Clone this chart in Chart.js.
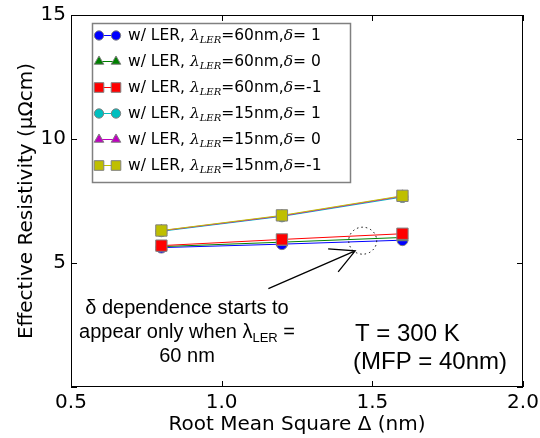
<!DOCTYPE html>
<html>
<head>
<meta charset="utf-8">
<script src="https://cdn.jsdelivr.net/npm/chart.js@4.4.1/dist/chart.umd.min.js"></script>
<style>
  html, body { margin: 0; padding: 0; background: #fff; }
  #wrap { width: 540px; height: 438px; }
</style>
</head>
<body>
<div id="wrap"><canvas id="c" width="540" height="438"></canvas></div>
<script>
const rms = [0.8, 1.2, 1.6];
const lambdas = [60, 60, 60, 15, 15, 15];
const deltas = [' 1', ' 0', '-1', ' 1', ' 0', '-1'];
const colors = ['#0000ff', '#008000', '#ff0000', '#00bfbf', '#bf00bf', '#bfbf00'];
const shapes = ['circle', 'triangle', 'rect', 'circle', 'triangle', 'rect'];
const rho60d1 = [5.62, 5.76, 5.92];
const rho60d0 = [5.66, 5.84, 6.03];
const rho60dm1 = [5.70, 5.95, 6.18];
const rho15d1 = [6.28, 6.88, 7.66];
const rho15d0 = [6.30, 6.90, 7.69];
const rho15dm1 = [6.31, 6.92, 7.71];
const series = [rho60d1, rho60d0, rho60dm1, rho15d1, rho15d0, rho15dm1];
const xTicks = [0.5, 1.0, 1.5, 2.0];
const yTicks = [0, 5, 10, 15];

const radii = { circle: 5.5, triangle: 6.5, rect: 8 };
const SANS = "'DejaVu Sans', sans-serif";
const ARIAL = "'Liberation Sans', Arial, sans-serif";
const SERIF = "'DejaVu Serif', serif";

// later series are drawn on top, as in the original plot
const datasets = series.map((vals, i) => ({
  label: `w/ LER, λLER=${lambdas[i]}nm,δ=${deltas[i]}`,
  data: vals.map((v, k) => ({ x: rms[k], y: v })),
  order: series.length - 1 - i,
  borderColor: colors[i],
  borderWidth: 1,
  pointStyle: shapes[i],
  pointRadius: radii[shapes[i]],
  pointBackgroundColor: colors[i],
  pointBorderColor: '#808080',
  pointBorderWidth: 1,
  tension: 0,
}));

// frame, inner ticks, annotations and the legend
const extras = {
  id: 'extras',
  afterDraw(chart) {
    const { ctx, chartArea: a, scales: { x, y } } = chart;
    ctx.save();
    ctx.strokeStyle = '#000';
    ctx.lineWidth = 1;
    ctx.strokeRect(a.left + 0.5, a.top + 0.5, a.right - a.left - 1, a.bottom - a.top - 1);
    const tl = 6;
    ctx.beginPath();
    xTicks.forEach(v => {
      const px = Math.round(x.getPixelForValue(v)) + 0.5;
      ctx.moveTo(px, a.bottom); ctx.lineTo(px, a.bottom - tl);
      ctx.moveTo(px, a.top); ctx.lineTo(px, a.top + tl);
    });
    yTicks.forEach(v => {
      const py = Math.round(y.getPixelForValue(v)) + 0.5;
      ctx.moveTo(a.left, py); ctx.lineTo(a.left + tl, py);
      ctx.moveTo(a.right, py); ctx.lineTo(a.right - tl, py);
    });
    ctx.stroke();

    // dotted circle + arrow
    const cx = x.getPixelForValue(1.468), cy = y.getPixelForValue(5.9);
    ctx.setLineDash([1.5, 3]);
    ctx.beginPath();
    ctx.ellipse(cx, cy, 14, 13.5, 0, 0, Math.PI * 2);
    ctx.stroke();
    ctx.setLineDash([]);
    const tip = [x.getPixelForValue(1.443), y.getPixelForValue(5.49)];
    const tail = [x.getPixelForValue(1.155), y.getPixelForValue(3.97)];
    ctx.lineWidth = 1.3;
    ctx.beginPath();
    ctx.moveTo(tail[0], tail[1]); ctx.lineTo(tip[0], tip[1]);
    ctx.moveTo(tip[0] - 27, tip[1] - 2); ctx.lineTo(tip[0], tip[1]);
    ctx.lineTo(tip[0] - 17, tip[1] + 21);
    ctx.stroke();

    // annotation text
    ctx.fillStyle = '#000';
    ctx.textBaseline = 'middle';
    ctx.textAlign = 'center';
    ctx.font = `20px ${ARIAL}`;
    ctx.fillText('δ dependence starts to', 187, 308);
    const l2a = 'appear only when λ', l2b = 'LER', l2c = ' =';
    const wa = ctx.measureText(l2a).width, wc = ctx.measureText(l2c).width;
    ctx.font = `13px ${ARIAL}`;
    const wb = ctx.measureText(l2b).width;
    const sx = 187 - (wa + wb + wc) / 2;
    ctx.textAlign = 'left';
    ctx.font = `20px ${ARIAL}`;
    ctx.fillText(l2a, sx, 332);
    ctx.font = `13px ${ARIAL}`;
    ctx.fillText(l2b, sx + wa, 338);
    ctx.font = `20px ${ARIAL}`;
    ctx.fillText(l2c, sx + wa + wb, 332);
    ctx.textAlign = 'center';
    ctx.fillText('60 nm', 187, 356);
    ctx.textAlign = 'left';
    ctx.font = `24px ${ARIAL}`;
    ctx.fillText('T = 300 K', 355, 334);
    ctx.fillText('(MFP = 40nm)', 353, 362);

    // legend
    const lx = 92.5, ly = 23.5, lw = 258, lh = 159;
    ctx.fillStyle = '#fff';
    ctx.fillRect(lx, ly, lw, lh);
    ctx.strokeStyle = '#808080';
    ctx.lineWidth = 1.5;
    ctx.strokeRect(lx, ly, lw, lh);
    chart.data.datasets.forEach((ds, i) => {
      const ry = 35.5 + i * 26;
      ctx.strokeStyle = ds.borderColor;
      ctx.lineWidth = 1;
      ctx.beginPath(); ctx.moveTo(99, ry); ctx.lineTo(115, ry); ctx.stroke();
      const opt = {
        pointStyle: ds.pointStyle, radius: ds.pointRadius * 0.85, rotation: 0, borderWidth: 1,
      };
      ctx.fillStyle = ds.pointBackgroundColor;
      ctx.strokeStyle = ds.pointBorderColor;
      Chart.helpers.drawPoint(ctx, opt, 99, ry);
      Chart.helpers.drawPoint(ctx, opt, 116, ry);
      // text with math parts
      ctx.fillStyle = '#000';
      ctx.textAlign = 'left';
      ctx.textBaseline = 'middle';
      let tx = 128;
      const part = (txt, font, dy) => {
        ctx.font = font;
        ctx.fillText(txt, tx, ry + dy);
        tx += ctx.measureText(txt).width;
      };
      part('w/ LER, ', `15.5px ${SANS}`, 0);
      part('λ', `italic 15.5px ${SERIF}`, 0);
      part('LER', `italic 10px ${SERIF}`, 5);
      part(`=${lambdas[i]}nm,`, `15.5px ${SANS}`, 0);
      part('δ', `italic 15.5px ${SERIF}`, 0);
      part(`=${deltas[i]}`, `15.5px ${SANS}`, 0);
    });
    ctx.restore();
  },
};

new Chart(document.getElementById('c'), {
  type: 'line',
  data: { datasets },
  options: {
    responsive: false,
    animation: false,
    layout: { padding: { top: 15, right: 17, left: 0, bottom: 0 } },
    plugins: { legend: { display: false }, tooltip: { enabled: false } },
    scales: {
      x: {
        type: 'linear',
        min: 0.5, max: 2.0,
        afterFit: s => { s.height = 51; s.paddingRight = 0; s.paddingLeft = 0; },
        afterBuildTicks: s => { s.ticks = xTicks.map(v => ({ value: v })); },
        grid: { display: false, drawTicks: false },
        border: { display: false },
        ticks: { color: '#000', padding: 4, font: { size: 20, family: SANS }, callback: v => v.toFixed(1) },
        title: { display: true, text: 'Root Mean Square Δ (nm)', color: '#000', font: { size: 20, family: SANS }, padding: { top: 0, bottom: 1 } },
      },
      y: {
        min: 0, max: 15,
        afterFit: s => { s.width = 71; s.paddingTop = 0; s.paddingBottom = 0; },
        afterBuildTicks: s => { s.ticks = yTicks.map(v => ({ value: v })); },
        grid: { display: false, drawTicks: false },
        border: { display: false },
        ticks: { color: '#000', padding: 5, font: { size: 20, family: SANS }, callback: v => (v === 0 ? '' : v) },
        title: { display: true, text: 'Effective Resistivity (μΩcm)', color: '#000', font: { size: 20, family: SANS }, padding: { top: 15, bottom: 0 } },
      },
    },
  },
  plugins: [extras],
});
</script>
</body>
</html>
